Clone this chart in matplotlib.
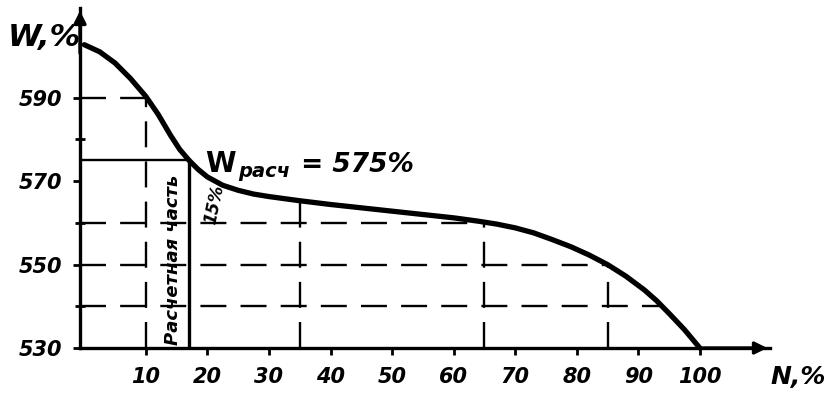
import numpy as np
import matplotlib.pyplot as plt

plt.rcParams["font.family"] = ["Liberation Sans Narrow", "DejaVu Sans"]

# curve
n_pct = [0, 2.5, 5, 7.5, 10, 12, 14, 15.5, 17, 18.5, 20, 22.5, 25, 27.5, 30, 35, 40, 45,
         50, 55, 60, 64, 67, 70, 73, 76, 79, 82, 85, 88, 91, 93, 95, 97.5, 100]
w_pct = [602.7, 601.0, 598.3, 594.6, 590.3, 586.0, 581.0, 577.6, 575.0, 572.8, 571.0, 569.0,
         567.8, 566.9, 566.3, 565.3, 564.4, 563.6, 562.8, 562.0, 561.2, 560.4, 559.7, 558.8,
         557.6, 556.0, 554.3, 552.3, 550.0, 547.2, 543.9, 541.3, 538.3, 534.4, 530.0]

x_ticks = [10, 20, 30, 40, 50, 60, 70, 80, 90, 100]
x_labels = ["10", "20", "30", "40", "50", "60", "70", "80", "90", "100"]
y_major = [550, 570, 590]
y_minor = [540, 560, 580]

# dashed guide lines
h_levels = [590, 560, 550, 540]
h_ends = [10, 64, 85, 94]
v_pos = [10, 35, 65, 85]
v_tops = [590, 565.3, 560.2, 550]

w_calc = 575
n_calc = 17

fig = plt.figure(figsize=(8.33, 3.97), dpi=100)
ax = fig.add_axes([80 / 833, 1 - 348 / 397, 690 / 833, 340 / 397])
ax.set_xlim(-0.7, 111.4)
ax.set_ylim(530, 611.5)
for s in ["top", "right"]:
    ax.spines[s].set_visible(False)
ax.spines["left"].set_linewidth(2.4)
ax.spines["bottom"].set_linewidth(2.4)

# axis arrows
ax.annotate("", xy=(111.4, 530), xytext=(100, 530),
            arrowprops=dict(arrowstyle="-|>", color="black", lw=2.4, mutation_scale=18),
            annotation_clip=False)
ax.annotate("", xy=(-0.7, 611.5), xytext=(-0.7, 600),
            arrowprops=dict(arrowstyle="-|>", color="black", lw=2.4, mutation_scale=18),
            annotation_clip=False)

tfont = dict(fontweight="bold", fontstyle="italic", fontsize=15)
ax.set_xticks(x_ticks)
ax.set_xticklabels(x_labels, **tfont)
ax.set_yticks([530] + y_major)
ax.set_yticklabels(["530"] + [str(v) for v in y_major], **tfont)
ax.set_yticks(y_minor, minor=True)
ax.tick_params(axis="x", direction="out", length=5, width=2, pad=9)
ax.tick_params(axis="y", direction="out", length=5, width=2, pad=8)
ax.tick_params(axis="y", which="minor", direction="inout", length=7, width=2)

dash = dict(color="black", lw=1.7, dashes=(11, 6))
for lv, e in zip(h_levels, h_ends):
    ax.plot([-0.7, e], [lv, lv], **dash)
for xp, top in zip(v_pos, v_tops):
    ax.plot([xp, xp], [530, top], **dash)

# calculated part
ax.plot([-0.7, n_calc], [w_calc, w_calc], color="black", lw=1.7)
ax.plot([n_calc, n_calc], [530, w_calc], color="black", lw=2.4)

ax.plot(n_pct, w_pct, color="black", lw=3.8, solid_capstyle="round",
        solid_joinstyle="round", clip_on=False)

ax.text(14.4, 530.7, "Расчетная часть", rotation=90, ha="center", va="bottom",
        fontsize=13, fontweight="bold", fontstyle="italic")
ax.text(21.2, 564.5, "15%", rotation=78, ha="center", va="center",
        fontsize=12, fontweight="bold", fontstyle="italic")

t1 = ax.text(19.6, 572.2, "W", fontsize=20, fontweight="bold", va="baseline")
t2 = ax.annotate("расч", xy=(1, 0), xycoords=t1, xytext=(2, -2), textcoords="offset points",
                 va="bottom", fontsize=14, fontweight="bold", fontstyle="italic")
ax.annotate(" = 575%", xy=(1, 0), xycoords=t2, xytext=(1, 2), textcoords="offset points",
            va="bottom", fontsize=19, fontweight="bold", fontstyle="italic")

fig.text(8 / 833, 1 - 46 / 397, "W,%", fontsize=22, fontweight="bold", fontstyle="italic")
fig.text(770 / 833, 1 - 384 / 397, "N,%", fontsize=18, fontweight="bold", fontstyle="italic")

fig.savefig("out.png", dpi=100)
